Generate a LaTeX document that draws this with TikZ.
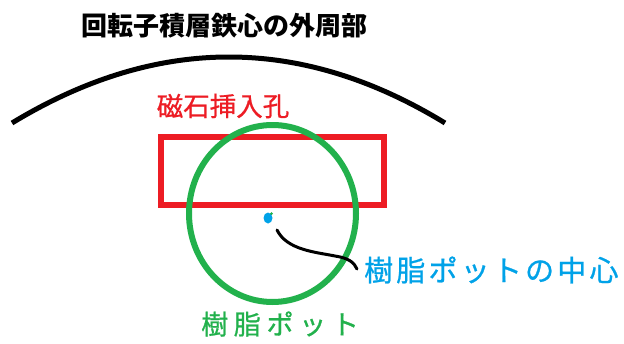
\documentclass[tikz,border=0pt]{standalone}
\usepackage{fontspec}
\usetikzlibrary{shapes.geometric}
\newfontfamily\jp{Noto Sans CJK JP}
\newfontfamily\jpred[FakeBold=0.8]{Noto Sans CJK JP}
\newfontfamily\jpblue[LetterSpace=11,FakeBold=0.8]{Noto Sans CJK JP}
\newfontfamily\jpgreen[LetterSpace=21,FakeBold=0.8]{Noto Sans CJK JP}
\definecolor{pred}{HTML}{ED1C24}
\definecolor{pgreen}{HTML}{22B14C}
\definecolor{pblue}{HTML}{00A2E8}
\begin{document}
\begin{tikzpicture}[x=1pt,y=-1pt,
  lbl/.style={inner sep=0pt,font=\jp},
]
\useasboundingbox (0,0) rectangle (624,343);
\fill[white] (0,0) rectangle (624,343);
% title
\node[lbl,font=\jp\bfseries\fontsize{26}{28}\selectfont] (title) at (224,26) {回転子積層鉄心の外周部};
% outer arc
\coordinate (arcL) at (12,123);
\coordinate (arcR) at (445,123);
\draw[line width=5pt] (arcL) .. controls (157,35) and (301,35) .. (arcR);
% magnet hole
\node[lbl,text=pred,font=\jpred\fontsize{26.5}{28}\selectfont] (holelbl) at (223,106) {磁石挿入孔};
\node[draw=pred,line width=6pt,minimum width=223pt,minimum height=68pt,inner sep=0pt] (hole) at (272.5,171) {};
% resin pot
\node[draw=pgreen,line width=6pt,ellipse,minimum width=167pt,minimum height=177pt,inner sep=0pt] (pot) at (272.5,213.5) {};
\fill[pblue] (268,218) ellipse [x radius=4.5, y radius=5.5];
\node[circle,inner sep=0pt,minimum size=1pt] (center) at (268,218) {};
\fill[pgreen] (271.5,213.5) circle (1.5);
% leader
\coordinate (leadS) at (277,230);
\node[lbl,text=pblue,font=\jpblue\fontsize{29}{31}\selectfont,anchor=west] (centerlbl) at (364,270) {樹脂ポットの中心};
\coordinate (leadE) at (357,269);
\draw[line width=3pt,line cap=round] (leadS) .. controls (287,250) and (315,252) .. (335,256) .. controls (348,258) and (354,262) .. (leadE);
\node[lbl,text=pgreen,font=\jpgreen\fontsize{27}{29}\selectfont,anchor=west] (potlbl) at (201,324) {樹脂ポット};
\end{tikzpicture}
\end{document}
